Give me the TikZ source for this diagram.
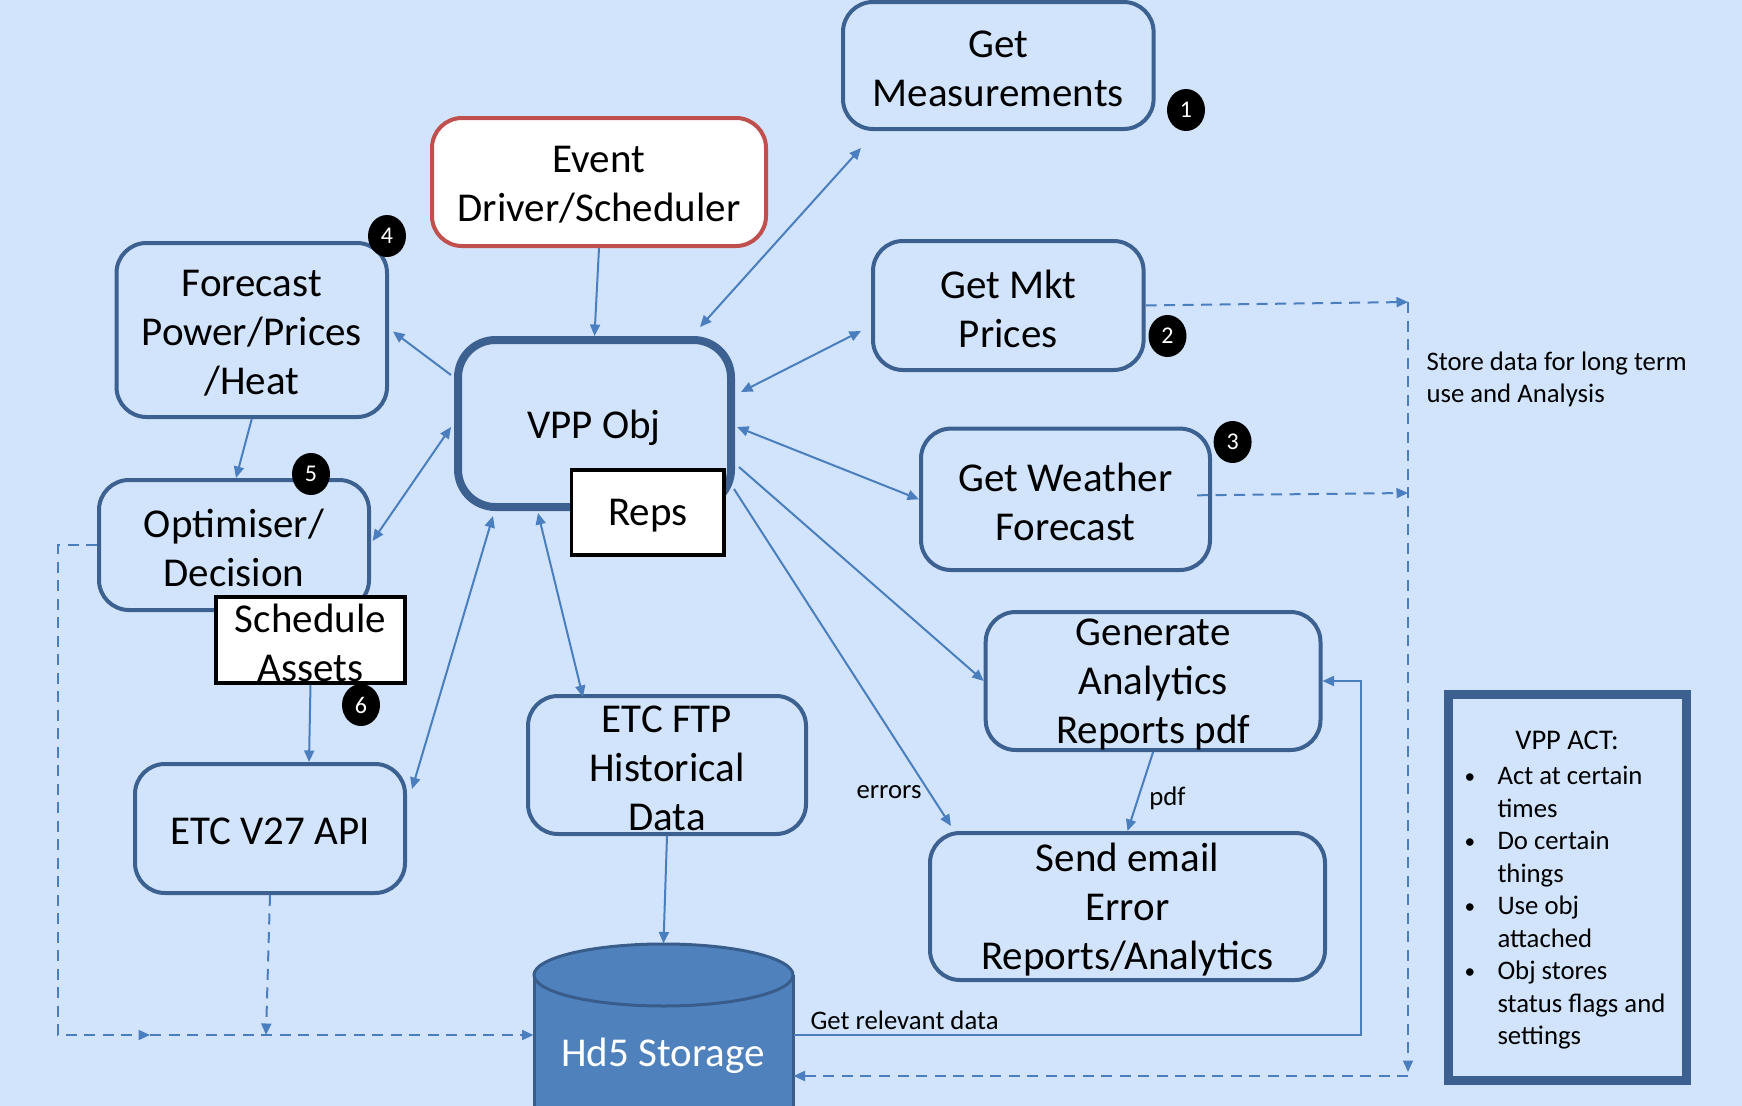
\documentclass[tikz,border=0pt]{standalone}
\usepackage{fontspec}
\setmainfont{Carlito}
\usetikzlibrary{arrows.meta,calc,fit,shapes.geometric}
\definecolor{bg}{HTML}{D2E4FB}
\definecolor{boxc}{HTML}{3C6190}
\definecolor{arrc}{HTML}{4A7EBF}
\definecolor{redc}{HTML}{C0504D}
\definecolor{cylf}{HTML}{4F81BD}
\definecolor{cyld}{HTML}{385D8A}
\begin{document}
\begin{tikzpicture}[x=0.4pt,y=-0.4pt,
  >={Triangle[length=4.6pt,width=4pt]},
  box/.style={draw=boxc,line width=1.6pt,rounded corners=12pt,inner sep=0pt},
  sqbox/.style={draw=black,fill=white,line width=1.4pt,inner sep=0pt},
  txt/.style={align=center,inner sep=0pt,yshift=-1.2pt,font=\fontsize{16.4}{19.6}\selectfont},
  small/.style={inner sep=0pt,font=\fontsize{10.7}{12.8}\selectfont},
  conn/.style={draw=arrc,line width=0.8pt},
  dsh/.style={conn,dash pattern=on 4.4pt off 3pt},
  badge/.style={ellipse,fill=black,minimum width=15.2pt,minimum height=16.8pt,inner sep=0pt,text=white,font=\fontsize{9.6}{10}\selectfont}]

\path[use as bounding box,fill=bg] (0,0) rectangle (1742,1106);

% storage cylinder
\fill[cylf] (534,975) rectangle (793,1125);
\draw[cyld,line width=1.2pt] (534,975) -- (534,1125) (793,975) -- (793,1125);
\draw[cyld,line width=1.2pt,fill=cylf] (663.5,975) ellipse [x radius=129.5,y radius=31];
\node[inner sep=0pt,fit={(534,944) (793,1106)}] (hd) {};
\node[txt,text=white] (hdt) at (663,1053) {Hd5 Storage};

% boxes
\node[box,fit={(843,2) (1153.6,129)}] (gm) {};
\node[txt] (gmt) at (gm.center) {Get\\Measurements};
\node[box,draw=redc,fill=white,fit={(432,118) (766,246)}] (ev) {};
\node[txt] (evt) at (ev.center) {Event\\Driver/Scheduler};
\node[box,fit={(116.5,243) (387,417)}] (fc) {};
\node[txt] (fct) at (fc.center) {Forecast\\Power/Prices\\/Heat};
\node[box,line width=3.2pt,rounded corners=15pt,fit={(458,340) (731,507)}] (vpp) {};
\node[txt] (vppt) at (594,425) {VPP Obj};
\node[sqbox,fit={(571.5,470) (724,555)}] (reps) {};
\node[txt] (repst) at (reps.center) {Reps};
\node[box,fit={(99,480) (369,610)}] (op) {};
\node[txt] (opt) at (op.center) {Optimiser/\\Decision};
\node[sqbox,fit={(216,597) (405,683)}] (sa) {};
\node[txt] (sat) at (sa.center) {Schedule\\Assets};
\node[box,fit={(135,764) (405,893)}] (api) {};
\node[txt] (apit) at (api.center) {ETC V27 API};
\node[box,fit={(528,696) (806,834)}] (ftp) {};
\node[txt] (ftpt) at (ftp.center) {ETC FTP\\Historical\\Data};
\node[box,fit={(873,241) (1143.6,370)}] (mkt) {};
\node[txt] (mktt) at (mkt.center) {Get Mkt\\Prices};
\node[box,fit={(921,428.6) (1210,570)}] (wx) {};
\node[txt] (wxt) at (wx.center) {Get Weather\\Forecast};
\node[box,fit={(985.7,612) (1320.5,750)}] (gen) {};
\node[txt] (gent) at (gen.center) {Generate\\Analytics\\Reports pdf};
\node[box,fit={(930,833) (1325,980)}] (send) {};
\node[txt] (sendt) at (send.center) {Send email\\Error\\Reports/Analytics};
\node[draw=boxc,line width=3.6pt,inner sep=0pt,fit={(1448,694.5) (1686,1080)}] (act) {};

% badges
\node[badge] (b1) at (1186,110) {1};
\node[badge] (b2) at (1167.5,336) {2};
\node[badge] (b3) at (1232.6,442) {3};
\node[badge] (b4) at (387,236) {4};
\node[badge] (b5) at (311,474) {5};
\node[badge] (b6) at (361,705) {6};

% solid connectors
\draw[conn,->] (ev.south) -- (vpp.north);
\draw[conn,<->] ($(vpp.north)+(105.5,-9)$) -- ($(gm.south west)+(20,17)$);
\draw[conn,<->] ($(vpp.east)+(6,-31.5)$) -- ($(mkt.west)+(-10,25.5)$);
\draw[conn,<->] ($(vpp.east)+(2,3.5)$) -- (wx.west);
\draw[conn,->] ($(vpp.east)+(4,43.5)$) -- (gen.west);
\draw[conn,->] ($(vpp.east)+(-1,65.5)$) -- ($(send.north west)+(23,-5)$);
\draw[conn,->] ($(vpp.west)+(-3,-48.5)$) -- ($(fc.east)+(4,1.5)$);
\draw[conn,->] (fc.south) -- ($(op.north)+(2,0)$);
\draw[conn,<->] ($(vpp.west)+(-3,3.5)$) -- ($(op.east)+(1.6,-4)$);
\draw[conn,->] (sa.south) -- ($(api.north)+(39,0)$);
\draw[conn,<->] ($(vpp.south west)+(39,5)$) -- ($(api.east)+(5,-39.5)$);
\draw[conn,<->] ($(vpp.south)+(-56.5,2)$) -- ($(ftp.north)+(-84,3)$);
\draw[conn,->] (gen.south) -- (send.north);
\draw[conn,->] (ftp.south) -- (hd.north);
\draw[conn,->] ($(hd.east)+(0,10)$) -- ++(567,0) |- (gen.east);

% dashed connectors
\coordinate (l1) at (58,545);
\coordinate (l2) at (58,1035);
\coordinate (l3) at (150,1035);
\coordinate (l4) at (266,1035);
\draw[dsh,->] (op.west) -- (l1) -- (l2) -- (l3);
\draw[dsh,->] (l3) -- ($(hd.west)+(0,10)$);
\draw[dsh,->] (api.south) -- (l4);
\coordinate (s1) at (1408,302);
\coordinate (s2) at (1408,493);
\coordinate (s3) at (1408,1072);
\coordinate (s4) at (1408,1076);
\draw[dsh,->] (mkt.east) -- (s1);
\draw[dsh,->] ($(wx.east)+(-15,-4)$) -- (s2);
\draw[dsh,->] (s1) -- (s3);
\draw[dsh,->] (s4) -- ($(hd.east)+(0,51)$);

% labels
\node[small] (lerr) at (889,792) {errors};
\node[small] (lpdf) at (1167.5,798) {pdf};
\node[small,anchor=base west] (lget) at (810,1029) {Get relevant data};
\node[small,anchor=base west] (st1) at (1426,370.5) {Store data for long term};
\node[small,anchor=base west] (st2) at (1426,402.6) {use and Analysis};

% VPP ACT text
\node[inner sep=0pt,font=\fontsize{11.4}{13}\selectfont] (actt) at (1567,740) {VPP ACT:};
\foreach \i/\yy/\t in {1/776.5/Act at certain, 2/809/times, 3/841.5/Do certain, 4/874/things, 5/906/Use obj, 6/939/attached, 7/971/Obj stores, 8/1004/status flags and, 9/1036/settings}
  \node[small,anchor=base west] (act\i) at (1497,\yy+8) {\t};
\foreach \i/\yy in {1/776.5,3/841.5,5/906,7/971}
  \node[inner sep=0pt,anchor=base,font=\fontsize{8.5}{10}\selectfont] (bul\i) at (1470,\yy+7) {\textbullet};
\end{tikzpicture}
\end{document}
